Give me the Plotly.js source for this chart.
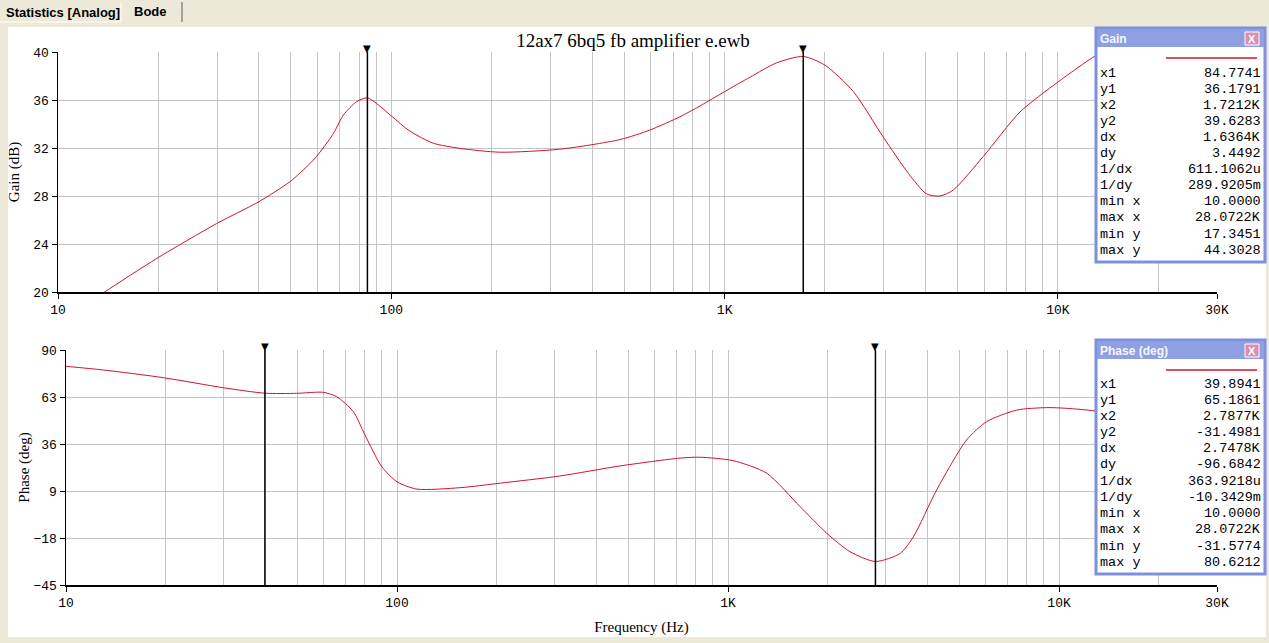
<!DOCTYPE html>
<html>
<head>
<meta charset="utf-8">
<script src="https://cdn.plot.ly/plotly-3.0.1.min.js"></script>
<style>html,body{margin:0;padding:0;background:#ECE9D8;}#chart{width:1269px;height:643px;}</style>
</head>
<body>
<div id="chart"></div>
<script>
// ---------- data ----------
const chartTitle = "12ax7 6bq5 fb amplifier e.ewb";

const gainFreq = [10, 13.8, 19.8, 29.9, 39.9, 49.7, 57, 59.7, 67, 71.8, 78.7, 84.77, 90.4, 100, 113.8, 133.6, 160.7, 212, 320, 485, 597, 734, 843, 1000, 1191, 1433, 1721, 2000, 2433, 2993, 3556, 4036, 4426, 4853, 5972, 7692, 10000, 13060, 18000, 28072];
const gainDb   = [17.35, 20.0, 22.8, 25.7, 27.5, 29.2, 30.7, 31.3, 33.2, 34.75, 35.86, 36.18, 35.7, 34.67, 33.4, 32.4, 31.97, 31.65, 31.9, 32.7, 33.5, 34.6, 35.5, 36.7, 37.9, 39.1, 39.63, 38.9, 36.7, 32.9, 29.9, 28.17, 28.0, 28.5, 31.3, 35.0, 37.5, 39.75, 41.8, 44.3];

const phaseFreq = [10, 13.0, 19.7, 29.9, 39.89, 49.7, 59.9, 65.7, 73.8, 80, 89.9, 100, 114.8, 155, 205, 310, 472, 716, 822, 1037, 1309, 1651, 1988, 2337, 2788, 3314, 3631, 4267, 5255, 6039, 7447, 9165, 10530, 12840, 18000, 28072];
const phaseDeg  = [80.62, 78.5, 74.1, 68.3, 65.19, 65.1, 65.7, 63.2, 54.6, 41.2, 23.0, 14.3, 10.1, 10.9, 13.5, 17.6, 23.4, 27.9, 28.4, 26.4, 19.2, 0.0, -15.3, -25.9, -31.5, -26.8, -17.3, 9.6, 38.3, 48.8, 55.5, 56.9, 56.5, 55.0, 50.0, 45.0];

const freqTickVals  = [10, 100, 1000, 10000, 30000];
const freqTickText  = ["10", "100", "1K", "10K", "30K"];
const gainTickVals  = [20, 24, 28, 32, 36, 40];
const phaseTickVals = [-45, -18, 9, 36, 63, 90];

const readLabels      = ["x1", "y1", "x2", "y2", "dx", "dy", "1/dx", "1/dy", "min x", "max x", "min y", "max y"];
const gainReadValues  = ["84.7741", "36.1791", "1.7212K", "39.6283", "1.6364K", "3.4492", "611.1062u", "289.9205m", "10.0000", "28.0722K", "17.3451", "44.3028"];
const phaseReadValues = ["39.8941", "65.1861", "2.7877K", "-31.4981", "2.7478K", "-96.6842", "363.9218u", "-10.3429m", "10.0000", "28.0722K", "-31.5774", "80.6212"];
const gainCursors  = [84.7741, 1721.2];
const phaseCursors = [39.8941, 2787.7];

// ---------- layout helpers ----------
const W = 1269, H = 643;
const fx = p => p / W;
const fy = p => 1 - p / H;

const minorTicks = [];
[10, 100, 1000, 10000].forEach(d => { for (let k = 2; k <= 9; k++) { if (d * k < 30000) minorTicks.push(d * k); } });

const RED = '#d0142c';
const GRID = '#c4c4c4';
const monoFont = {family: 'Liberation Mono, Courier New, monospace', size: 13, color: '#000'};
const readFont = {family: 'Liberation Mono, Courier New, monospace', size: 13.5, color: '#000'};
const serifFont = {family: 'Liberation Serif, Times New Roman, serif', size: 15, color: '#000'};

const traces = [
  {x: gainFreq, y: gainDb, xaxis: 'x', yaxis: 'y', mode: 'lines', line: {color: RED, width: 1, shape: 'spline', smoothing: 0.7}, hoverinfo: 'skip'},
  {x: phaseFreq, y: phaseDeg, xaxis: 'x2', yaxis: 'y2', mode: 'lines', line: {color: RED, width: 1, shape: 'spline', smoothing: 0.7}, hoverinfo: 'skip'}
];

const shapes = [];
const annotations = [];

// cursor lines + triangle markers
function cursors(list, xa, ya, yvals) {
  const top = yvals[yvals.length - 1];
  list.forEach(c => {
    traces.push({x: [c, c], y: [yvals[0], top], xaxis: xa, yaxis: ya, mode: 'lines', line: {color: '#000', width: 1.5}, hoverinfo: 'skip'});
    annotations.push({text: '▼', xref: xa, yref: ya, x: Math.log10(c), y: top, xanchor: 'center', yanchor: 'bottom', showarrow: false, borderpad: 0, yshift: -3,
      font: {family: 'DejaVu Sans', size: 10, color: '#000'}});
  });
}
cursors(gainCursors, 'x', 'y', gainTickVals);
cursors(phaseCursors, 'x2', 'y2', phaseTickVals);

function xAxis(dom, anchor, title) {
  const a = {
    type: 'log', range: [1, Math.log10(30000)], domain: dom, anchor: anchor,
    tickmode: 'array', tickvals: freqTickVals, ticktext: freqTickText,
    showgrid: true, gridcolor: GRID, gridwidth: 1,
    minor: {tickmode: 'array', tickvals: minorTicks, showgrid: true, gridcolor: GRID, gridwidth: 1, ticks: ''},
    showline: true, linecolor: '#000', linewidth: 1.5,
    ticks: 'outside', ticklen: 5, tickcolor: '#000', tickwidth: 1,
    tickfont: monoFont, zeroline: false, fixedrange: true, automargin: false
  };
  if (title) a.title = {text: title, font: serifFont, standoff: 11};
  return a;
}
function yAxis(dom, anchor, range, vals, title, standoff) {
  return {
    range: range, domain: dom, anchor: anchor,
    tickmode: 'array', tickvals: vals,
    showgrid: true, gridcolor: GRID, gridwidth: 1,
    showline: true, linecolor: '#000', linewidth: 1.5,
    ticks: 'outside', ticklen: 5, tickcolor: '#000', tickwidth: 1,
    tickfont: monoFont, zeroline: false, fixedrange: true, automargin: false,
    title: {text: title, font: serifFont, standoff: standoff}
  };
}

function rect(x0, y0, x1, y1, fill, lineColor, lw, layer) {
  shapes.push({type: 'rect', xref: 'paper', yref: 'paper', x0: fx(x0), x1: fx(x1), y0: fy(y1), y1: fy(y0),
    fillcolor: fill, line: {color: lineColor || 'rgba(0,0,0,0)', width: lw || 0}, layer: layer || 'above'});
}
function hline(x0, x1, y, color, w) {
  shapes.push({type: 'line', xref: 'paper', yref: 'paper', x0: fx(x0), x1: fx(x1), y0: fy(y), y1: fy(y), line: {color: color, width: w}, layer: 'above'});
}
function vline(x, y0, y1, color, w) {
  shapes.push({type: 'line', xref: 'paper', yref: 'paper', x0: fx(x), x1: fx(x), y0: fy(y0), y1: fy(y1), line: {color: color, width: w}, layer: 'above'});
}
function text(t, x, y, font, xanchor) {
  annotations.push({text: t, xref: 'paper', yref: 'paper', x: fx(x), y: fy(y), xanchor: xanchor || 'left', yanchor: 'middle', showarrow: false, font: font});
}

// window chrome: white panel and tab strip
rect(8, 27, 1266, 637, '#ffffff', null, 0, 'below');
vline(182, 2, 22, '#8c8c8c', 1.5);
vline(121, 3, 22, '#ffffff', 1);
hline(0, 121, 22, '#ffffff', 1);
text('Statistics [Analog]', 4, 12, {family: 'Liberation Sans, Arial, sans-serif', size: 13, color: '#000', weight: 'bold'});
text('Bode', 132, 11, {family: 'Liberation Sans, Arial, sans-serif', size: 13, color: '#000', weight: 'bold'});

// readout boxes
function readout(top, bottom, title, values, rowStart, rowStep) {
  rect(1096, top, 1265, bottom, '#ffffff', '#7d90dc', 3);
  rect(1097, top + 1, 1264, top + 19, '#8ea0e2', null, 0);
  rect(1245, top + 4, 1259, top + 17, '#d98fab', '#ffffff', 1);
  text('X', 1252, top + 10.5, {family: 'Liberation Sans, Arial, sans-serif', size: 11, color: '#fff', weight: 'bold'}, 'center');
  text(title, 1098, top + 10.5, {family: 'Liberation Sans, Arial, sans-serif', size: 12, color: '#f4f6ff', weight: 'bold'});
  hline(1166, 1257, top + 30, RED, 1.5);
  readLabels.forEach((l, i) => {
    const yy = rowStart + i * rowStep;
    text(l, 1098, yy, readFont, 'left');
    text(values[i], 1263, yy, readFont, 'right');
  });
}
readout(28, 262, 'Gain', gainReadValues, 73, 16.1);
readout(340, 574, 'Phase (deg)', phaseReadValues, 384, 16.2);

const layout = {
  width: W, height: H,
  margin: {l: 0, r: 0, t: 0, b: 0, pad: 0},
  paper_bgcolor: '#ECE9D8', plot_bgcolor: '#ffffff',
  showlegend: false, hovermode: false,
  title: {text: chartTitle, font: {family: 'Liberation Serif, Times New Roman, serif', size: 19, color: '#000'}, x: fx(633), xanchor: 'center', y: fy(40), yanchor: 'middle', xref: 'paper', yref: 'paper'},
  xaxis: xAxis([fx(58), fx(1217)], 'y', null),
  yaxis: yAxis([fy(292), fy(52)], 'x', [20, 40], gainTickVals, 'Gain (dB)', 10),
  xaxis2: xAxis([fx(66), fx(1217)], 'y2', 'Frequency (Hz)'),
  yaxis2: yAxis([fy(585), fy(350)], 'x2', [-45, 90], phaseTickVals, 'Phase (deg)', 0),
  shapes: shapes,
  annotations: annotations
};

Plotly.newPlot('chart', traces, layout, {displayModeBar: false, staticPlot: true});
</script>
</body>
</html>
